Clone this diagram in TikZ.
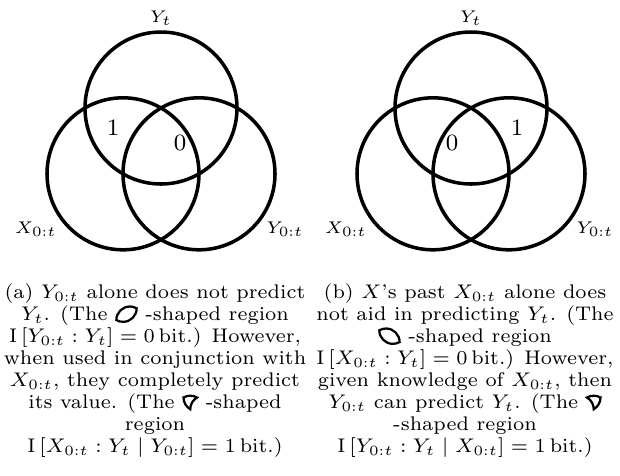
\documentclass[tikz,border=0pt]{standalone}
\newcommand{\lensA}{\tikz[x=4.8pt,y=4.8pt,line width=0.8pt,baseline={([yshift=-2.2pt]current bounding box.center)}]\draw (1,0.866) arc[start angle=0,end angle=-120,radius=1] arc[start angle=180,end angle=60,radius=1] -- cycle;}
\newcommand{\lensB}{\tikz[x=4.8pt,y=4.8pt,line width=0.8pt,baseline={([yshift=-2.2pt]current bounding box.center)}]\draw (-1,0.866) arc[start angle=180,end angle=300,radius=1] arc[start angle=0,end angle=120,radius=1] -- cycle;}
\newcommand{\triA}{\tikz[x=4.8pt,y=4.8pt,line width=0.8pt,baseline={([yshift=-2.2pt]current bounding box.center)}]\draw (-1,0.866) arc[start angle=180,end angle=240,radius=1] arc[start angle=180,end angle=120,radius=1] arc[start angle=60,end angle=120,radius=1] -- cycle;}
\newcommand{\triB}{\tikz[x=4.8pt,y=4.8pt,line width=0.8pt,baseline={([yshift=-2.2pt]current bounding box.center)}]\draw (1,0.866) arc[start angle=0,end angle=-60,radius=1] arc[start angle=0,end angle=60,radius=1] arc[start angle=120,end angle=60,radius=1] -- cycle;}
\begin{document}
\begin{tikzpicture}[x=0.3546pt,y=-0.3546pt,
  vc/.style={circle,draw,line width=1.25pt,minimum size=53.9pt,inner sep=0pt},
  lab/.style={font=\fontsize{6}{7}\selectfont,inner sep=0pt},
  dig/.style={font=\fontsize{8.3}{10}\selectfont,inner sep=0pt},
  capbox/.style={font=\fontsize{7}{7.8}\selectfont,align=center,inner sep=0pt,anchor=north}]
\useasboundingbox[fill=white] (0,0) rectangle (620,475);
% panel (a)
\node[vc] (Ta) at (161,108) {};
\node[vc] (La) at (123,173.8) {};
\node[vc] (Ra) at (199,173.8) {};
\node[lab] (yta) at (161,18) {$Y_t$};
\node[lab] (xa) at (36,229) {$X_{0:t}$};
\node[lab] (ya) at (285,229) {$Y_{0:t}$};
\node[dig] (a1) at (113,128) {1};
\node[dig] (a0) at (180,143) {0};
% panel (b)
\node[vc] (Tb) at (471,108) {};
\node[vc] (Lb) at (433,173.8) {};
\node[vc] (Rb) at (509,173.8) {};
\node[lab] (ytb) at (471,18) {$Y_t$};
\node[lab] (xb) at (346,229) {$X_{0:t}$};
\node[lab] (yb) at (595,229) {$Y_{0:t}$};
\node[dig] (b0) at (452,143) {0};
\node[dig] (b1) at (517,128) {1};
% captions
\node[capbox] (capa) at (155,283) {(a) $Y_{0:t}$ alone does not predict\\
$Y_t$. (The \lensA{} -shaped region\\
$\mathrm{I}\,[Y_{0:t} : Y_t] = 0\,\mathrm{bit}$.) However,\\
when used in conjunction with\\
$X_{0:t}$, they completely predict\\
its value. (The \triA{} -shaped\\
region\\
$\mathrm{I}\,[X_{0:t} : Y_t \mid Y_{0:t}] = 1\,\mathrm{bit}$.)};
\node[capbox] (capb) at (465,283) {(b) $X$'s past $X_{0:t}$ alone does\\
not aid in predicting $Y_t$. (The\\
\lensB{} -shaped region\\
$\mathrm{I}\,[X_{0:t} : Y_t] = 0\,\mathrm{bit}$.) However,\\
given knowledge of $X_{0:t}$, then\\
$Y_{0:t}$ can predict $Y_t$. (The \triB\\
-shaped region\\
$\mathrm{I}\,[Y_{0:t} : Y_t \mid X_{0:t}] = 1\,\mathrm{bit}$.)};
\end{tikzpicture}
\end{document}
